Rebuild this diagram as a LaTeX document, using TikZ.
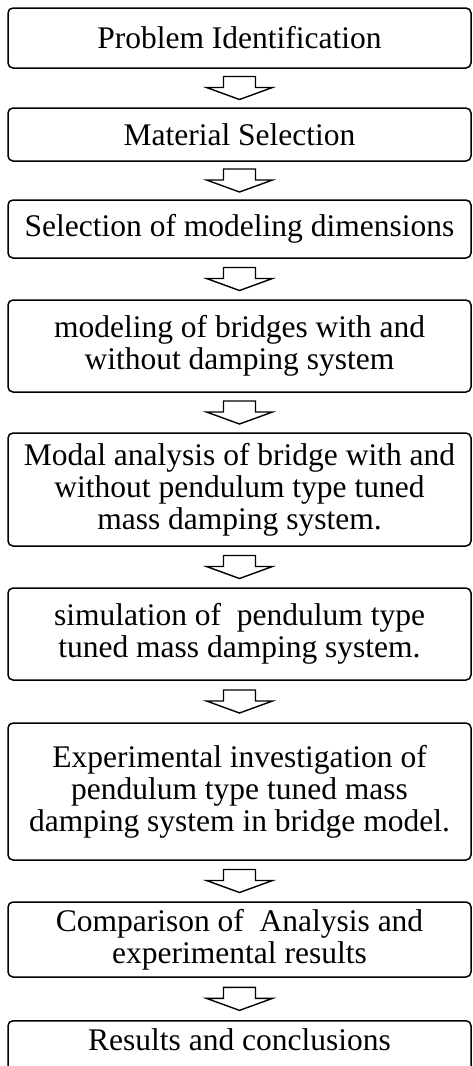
\documentclass[tikz,border=0pt]{standalone}
\usepackage{fontspec}
\setmainfont{Liberation Serif}
\usetikzlibrary{calc}

\tikzset{
  stepbox/.style={draw=black, line width=1.5pt, rounded corners=5pt,
    minimum width=463pt, inner sep=2pt, align=center,
    font=\fontsize{31.5}{32}\selectfont},
  blockarr/.style={draw=black, line width=1.4pt, fill=white, line join=miter},
}
% hollow block arrow between two boxes
\newcommand{\blockarrow}[2]{%
  \draw[blockarr] ($(#1.south)!0.5!(#2.north)$) ++(-16,11.5) -- ++(32,0)
    -- ++(0,-11) -- ++(17,0) -- ++(-33,-12) -- ++(-33,12) -- ++(17,0) -- cycle;}

\begin{document}
\begin{tikzpicture}[x=1pt,y=1pt]
\useasboundingbox (0,0) rectangle (472,-1066);
\node[stepbox, minimum height=60pt] (ident) at (239.5,-38) {Problem Identification};
\node[stepbox, minimum height=53pt] (material) at (239.5,-134.5) {Material Selection};
\node[stepbox, minimum height=58pt] (dims) at (239.5,-229) {Selection of modeling dimensions};
\node[stepbox, minimum height=92pt] (modeling) at (239.5,-346) {modeling of bridges with and\\without damping system};
\node[stepbox, minimum height=113pt] (modal) at (239.5,-489.5) {Modal analysis of bridge with and\\without pendulum type tuned\\mass damping system.};
\node[stepbox, minimum height=92pt] (simul) at (239.5,-634) {simulation of~ pendulum type\\tuned mass damping system.};
\node[stepbox, minimum height=137pt] (experim) at (239.5,-791.5) {Experimental investigation of\\pendulum type tuned mass\\damping system in bridge model.};
\node[stepbox, minimum height=75pt] (compar) at (239.5,-939.5) {Comparison of~ Analysis and\\experimental results};
\node[stepbox, anchor=north, minimum height=0pt, inner ysep=6pt,
  text height=24pt, text depth=30pt] (results) at (239.5,-1020) {Results and conclusions};

\blockarrow{ident}{material}
\blockarrow{material}{dims}
\blockarrow{dims}{modeling}
\blockarrow{modeling}{modal}
\blockarrow{modal}{simul}
\blockarrow{simul}{experim}
\blockarrow{experim}{compar}
\blockarrow{compar}{results}
\end{tikzpicture}
\end{document}
